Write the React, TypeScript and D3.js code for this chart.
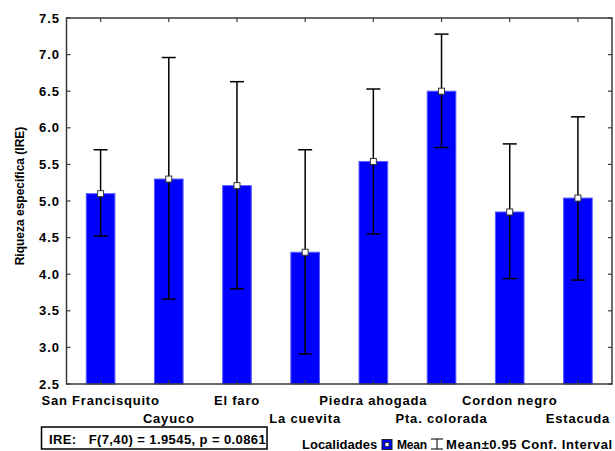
import React from "react";
import * as d3 from "d3";

// Localities and their mean species richness with 95% confidence limits
const categories: string[] = [
  "San Francisquito",
  "Cayuco",
  "El faro",
  "La cuevita",
  "Piedra ahogada",
  "Pta. colorada",
  "Cordon negro",
  "Estacuda",
];
const means: number[] = [5.1, 5.3, 5.21, 4.3, 5.54, 6.5, 4.85, 5.04];
const upper: number[] = [5.7, 6.96, 6.63, 5.7, 6.53, 7.28, 5.78, 6.15];
const lower: number[] = [4.52, 3.66, 3.8, 2.91, 4.55, 5.73, 3.94, 3.92];
const yTicks: number[] = [2.5, 3.0, 3.5, 4.0, 4.5, 5.0, 5.5, 6.0, 6.5, 7.0, 7.5];

const yTitle = "Riqueza especifica (IRE)";
const statsText = "IRE:   F(7,40) = 1.9545, p = 0.0861";
const legendTitle = "Localidades";
const legendMean = "Mean";
const legendCI = "Mean±0.95 Conf. Interval";

const W = 615;
const H = 451;
const left = 66.5;
const right = 612;
const top = 18;
const bottom = 384;

const FONT = "'Liberation Sans', Arial, sans-serif";
const AXIS = "#3a3a3a";
const BLUE = "#0000ff";

export default function App() {
  const x = d3.scaleBand<string>().domain(categories).range([left, right]).padding(0);
  const y = d3.scaleLinear().domain([2.5, 7.5]).range([bottom, top]);
  const bw = x.bandwidth();
  const barW = bw * 0.42;
  const capW = 14;
  const fmt = d3.format(".1f");

  return (
    <svg
      width={W}
      height={H}
      style={{ position: "absolute", left: 0, top: 0, background: "#fff" }}
      fontFamily={FONT}
    >
      {/* bars */}
      {categories.map((c, i) => {
        const cx = x(c)! + bw / 2;
        return (
          <rect
            key={"b" + c}
            x={cx - barW / 2}
            y={y(means[i])}
            width={barW}
            height={bottom - y(means[i])}
            fill={BLUE}
            stroke="#5a5aff"
            strokeWidth={1}
          />
        );
      })}

      {/* confidence intervals */}
      {categories.map((c, i) => {
        const cx = x(c)! + bw / 2;
        return (
          <g key={"e" + c} stroke="#000" strokeWidth={1.5}>
            <line x1={cx} x2={cx} y1={y(upper[i])} y2={y(lower[i])} />
            <line x1={cx - capW / 2} x2={cx + capW / 2} y1={y(upper[i])} y2={y(upper[i])} />
            <line x1={cx - capW / 2} x2={cx + capW / 2} y1={y(lower[i])} y2={y(lower[i])} />
          </g>
        );
      })}

      {/* mean markers */}
      {categories.map((c, i) => {
        const cx = x(c)! + bw / 2;
        return (
          <rect
            key={"m" + c}
            x={cx - 3}
            y={y(means[i]) - 3}
            width={6}
            height={6}
            fill="#fff"
            stroke="#333"
            strokeWidth={1}
          />
        );
      })}

      {/* frame */}
      <rect
        x={left}
        y={top}
        width={right - left}
        height={bottom - top}
        fill="none"
        stroke={AXIS}
        strokeWidth={1.5}
      />

      {/* y ticks on both sides, pointing inward */}
      {yTicks.map((t) => (
        <g key={"yt" + t} stroke={AXIS} strokeWidth={1.2}>
          <line x1={left} x2={left + 4} y1={y(t)} y2={y(t)} />
          <line x1={right - 4} x2={right} y1={y(t)} y2={y(t)} />
        </g>
      ))}
      {yTicks.map((t) => (
        <text
          key={"yl" + t}
          x={60}
          y={y(t)}
          dy="0.36em"
          textAnchor="end"
          fontSize={13}
          fontWeight="bold"
          letterSpacing={1}
          fill="#000"
        >
          {fmt(t)}
        </text>
      ))}

      {/* x ticks on top and bottom, pointing inward */}
      {categories.map((c) => {
        const cx = x(c)! + bw / 2;
        return (
          <g key={"xt" + c} stroke={AXIS} strokeWidth={1.2}>
            <line x1={cx} x2={cx} y1={top} y2={top + 4} />
            <line x1={cx} x2={cx} y1={bottom - 4} y2={bottom} />
          </g>
        );
      })}
      {categories.map((c, i) => {
        const cx = x(c)! + bw / 2;
        return (
          <text
            key={"xl" + c}
            x={cx}
            y={i % 2 === 0 ? 405 : 422.5}
            textAnchor="middle"
            fontSize={13}
            fontWeight="bold"
            letterSpacing={0.8}
            fill="#000"
          >
            {c}
          </text>
        );
      })}

      {/* y axis title */}
      <text
        transform={`translate(24,196) rotate(-90)`}
        textAnchor="middle"
        fontSize={12}
        fontWeight="bold"
        fill="#000"
      >
        {yTitle}
      </text>

      {/* statistics box */}
      <rect x={41.5} y={427} width={225.5} height={22} fill="#fff" stroke="#000" strokeWidth={1.5} />
      <text x={49} y={444} fontSize={13} fontWeight="bold" letterSpacing={0.4} fill="#000" style={{ whiteSpace: "pre" }}>
        {statsText}
      </text>

      {/* legend */}
      <text x={302} y={449} fontSize={13} fontWeight="bold" fill="#000">
        {legendTitle}
      </text>
      <rect x={382} y={439.5} width={10} height={10} fill={BLUE} stroke="#222" strokeWidth={1} />
      <rect x={385} y={442.5} width={4} height={4} fill="#fff" stroke="#222" strokeWidth={0.8} />
      <text x={397} y={449} fontSize={12} fontWeight="bold" letterSpacing={-0.2} fill="#000">
        {legendMean}
      </text>
      <g stroke="#222" strokeWidth={1.2}>
        <line x1={437} x2={437} y1={439} y2={449} />
        <line x1={431} x2={443} y1={439} y2={439} />
        <line x1={431} x2={443} y1={449} y2={449} />
      </g>
      <text x={446} y={449} fontSize={13} fontWeight="bold" letterSpacing={0.6} fill="#000">
        {legendCI}
      </text>
    </svg>
  );
}
